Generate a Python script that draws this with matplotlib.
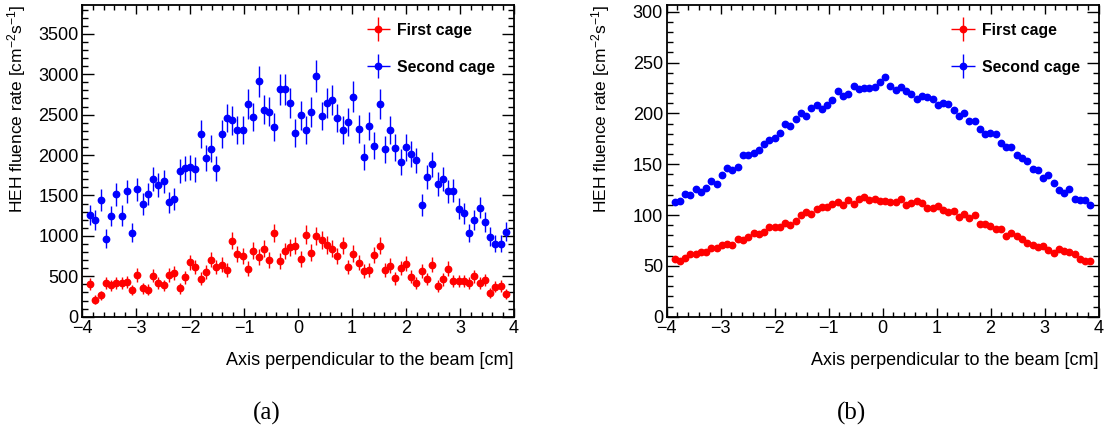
import numpy as np
import matplotlib
matplotlib.use("Agg")
import matplotlib.pyplot as plt
from matplotlib.container import ErrorbarContainer
from matplotlib.legend_handler import HandlerErrorbar
from matplotlib.ticker import MultipleLocator

plt.rcParams['font.family'] = ['Liberation Sans', 'DejaVu Sans']
plt.rcParams['mathtext.default'] = 'regular'

# 80 bins from -3.9 to 3.9 cm
nbins = 80
x_lo, x_hi = -3.9, 3.9

# (a) fluence rate, with statistical errors
first_a = [405, 211, 264, 417, 388, 417, 421, 426, 331, 517,
           351, 335, 508, 421, 388, 517, 541, 351, 488, 674,
           612, 471, 550, 707, 616, 645, 583, 942, 777, 756,
           595, 818, 740, 843, 702, 1037, 690, 814, 859, 880,
           715, 1016, 793, 1000, 946, 888, 843, 756, 884, 612,
           781, 665, 562, 583, 760, 880, 583, 632, 475, 599,
           657, 496, 417, 566, 467, 645, 380, 463, 595, 442,
           446, 446, 417, 500, 421, 450, 293, 372, 380, 285]
first_a_err = [72, 52, 58, 74, 71, 74, 74, 74, 65, 82,
               67, 66, 81, 74, 71, 82, 84, 67, 80, 93,
               89, 78, 84, 96, 89, 91, 87, 110, 100, 99,
               88, 103, 98, 105, 95, 116, 95, 103, 106, 107,
               96, 115, 101, 114, 111, 107, 105, 99, 106, 89,
               101, 93, 85, 87, 99, 107, 87, 90, 78, 88,
               92, 80, 74, 86, 78, 91, 70, 77, 88, 76,
               76, 76, 74, 80, 74, 76, 62, 69, 70, 61]
second_a = [1260, 1198, 1438, 967, 1248, 1512, 1252, 1554, 1041, 1578,
            1397, 1516, 1706, 1632, 1673, 1413, 1454, 1802, 1835, 1847,
            1822, 2264, 1967, 2078, 1839, 2264, 2457, 2430, 2306, 2306,
            2632, 2471, 2913, 2562, 2537, 2351, 2814, 2814, 2644, 2277,
            2492, 2310, 2533, 2975, 2483, 2640, 2678, 2459, 2310, 2409,
            2723, 2322, 1971, 2355, 2116, 2628, 2070, 2306, 2091, 1917,
            2095, 2012, 1934, 1384, 1731, 1884, 1645, 1707, 1550, 1558,
            1335, 1281, 1037, 1198, 1347, 1169, 992, 905, 905, 1050]
second_a_err = [128, 125, 136, 112, 127, 140, 127, 142, 116, 143,
                135, 140, 149, 145, 147, 135, 137, 153, 154, 155,
                154, 171, 160, 164, 154, 171, 178, 177, 173, 173,
                185, 179, 194, 182, 181, 175, 191, 191, 185, 172,
                180, 173, 181, 196, 179, 185, 186, 178, 173, 177,
                188, 173, 160, 175, 166, 185, 164, 173, 165, 158,
                165, 161, 158, 134, 150, 156, 146, 149, 142, 142,
                132, 129, 116, 125, 132, 123, 113, 108, 108, 117]

# (b) fluence rate, errors smaller than the markers
first_b = [56.5, 55.2, 57.5, 62.1, 62.1, 63.7, 64.1, 68.0, 68.0, 70.9,
           71.2, 70.6, 76.1, 75.2, 78.8, 82.4, 81.4, 83.0, 87.9, 88.6,
           88.6, 92.5, 90.2, 94.4, 100.3, 103.3, 101.3, 106.2, 107.8, 108.2,
           111.1, 112.7, 109.8, 115.0, 110.8, 116.3, 117.3, 114.7, 116.0, 114.1,
           113.4, 112.7, 112.7, 115.4, 109.8, 111.8, 113.7, 111.8, 106.5, 106.9,
           108.5, 104.6, 103.4, 103.9, 98.0, 101.3, 97.4, 99.7, 90.9, 90.9,
           88.9, 85.9, 86.3, 79.1, 82.7, 79.4, 76.1, 72.5, 70.3, 68.6,
           69.3, 65.4, 63.1, 66.3, 65.0, 64.1, 61.4, 56.9, 55.2, 55.2]
second_b = [112.4, 113.7, 120.6, 119.3, 125.5, 122.5, 126.8, 133.3, 131.0, 139.9,
            146.7, 144.1, 147.7, 158.8, 158.8, 160.8, 164.4, 170.3, 173.9, 176.1,
            181.0, 189.9, 187.9, 194.1, 200.0, 197.7, 204.9, 208.5, 204.6, 208.5,
            213.4, 221.9, 217.6, 219.6, 227.1, 223.9, 225.2, 224.8, 226.1, 231.1,
            235.6, 226.8, 223.2, 226.1, 222.5, 219.0, 214.7, 216.7, 216.0, 214.4,
            208.2, 209.8, 209.2, 203.3, 197.4, 200.3, 192.8, 192.2, 185.0, 179.7,
            180.7, 179.7, 171.2, 166.7, 166.7, 159.5, 155.9, 153.3, 145.4, 144.8,
            136.6, 139.9, 131.7, 124.8, 121.9, 125.8, 116.0, 114.4, 114.4, 109.8]
err_b = 1.2

edges = np.linspace(x_lo, x_hi, nbins + 1)
xc = 0.5 * (edges[:-1] + edges[1:])

W, H = 1105, 432
fig = plt.figure(figsize=(W / 100, H / 100), dpi=100)
ax_a = fig.add_axes([82 / W, 1 - 316.7 / H, 432 / W, 312 / H])
ax_b = fig.add_axes([666.5 / W, 1 - 316.7 / H, 432 / W, 312 / H])

RED = '#ff0000'
BLUE = '#0000ff'


def draw(ax, y1, e1, y2, e2, ymax, ymajor, yminor, caption):
    kw = dict(fmt='o', ms=4.6, capsize=0, elinewidth=1.0, xerr=0)
    h1 = ax.errorbar(xc, y1, yerr=e1, color=RED, ecolor=RED, **kw)
    h2 = ax.errorbar(xc, y2, yerr=e2, color=BLUE, ecolor=BLUE, **kw)
    ax.set_xlim(-4, 4)
    ax.set_ylim(0, ymax)
    ax.xaxis.set_major_locator(MultipleLocator(1))
    ax.xaxis.set_minor_locator(MultipleLocator(0.2))
    ax.yaxis.set_major_locator(MultipleLocator(ymajor))
    ax.yaxis.set_minor_locator(MultipleLocator(yminor))
    ax.tick_params(which='both', direction='in', top=True, right=True,
                   labelsize=13, width=1.0, pad=2.5)
    ax.tick_params(axis='y', which='major', length=8.5)
    ax.tick_params(axis='y', which='minor', length=4.3)
    ax.tick_params(axis='x', which='major', length=6.5)
    ax.tick_params(axis='x', which='minor', length=3.3)
    for s in ax.spines.values():
        s.set_linewidth(1.3)
    ax.set_ylabel('HEH fluence rate [cm$^{-2}$s$^{-1}$]', fontsize=12.5, loc='top')
    ax.yaxis.set_label_coords(-0.125, 1.0)
    ax.set_xlabel('Axis perpendicular to the beam [cm]', fontsize=13, loc='right')
    ax.xaxis.set_label_coords(1.0, -0.112)
    ax.legend([h1, h2], ['First cage', 'Second cage'],
              handler_map={ErrorbarContainer: HandlerErrorbar(xerr_size=0.75, yerr_size=0.76)},
              loc='upper left', bbox_to_anchor=(0.657, 0.942), frameon=False,
              borderpad=0, borderaxespad=0, handlelength=1.6, handleheight=1.0,
              handletextpad=0.40, labelspacing=1.35,
              prop={'weight': 'bold', 'size': 11.4})
    pos = ax.get_position()
    fig.text(pos.x0 + (267 - 82) / W, 1 - 413 / H, caption, ha='center', va='center',
             fontsize=18, family=['Liberation Serif', 'DejaVu Serif'])


draw(ax_a, first_a, first_a_err, second_a, second_a_err, 3860, 500, 100, '(a)')
draw(ax_b, first_b, err_b, second_b, err_b, 307, 50, 10, '(b)')

fig.savefig('out.png', dpi=100)
